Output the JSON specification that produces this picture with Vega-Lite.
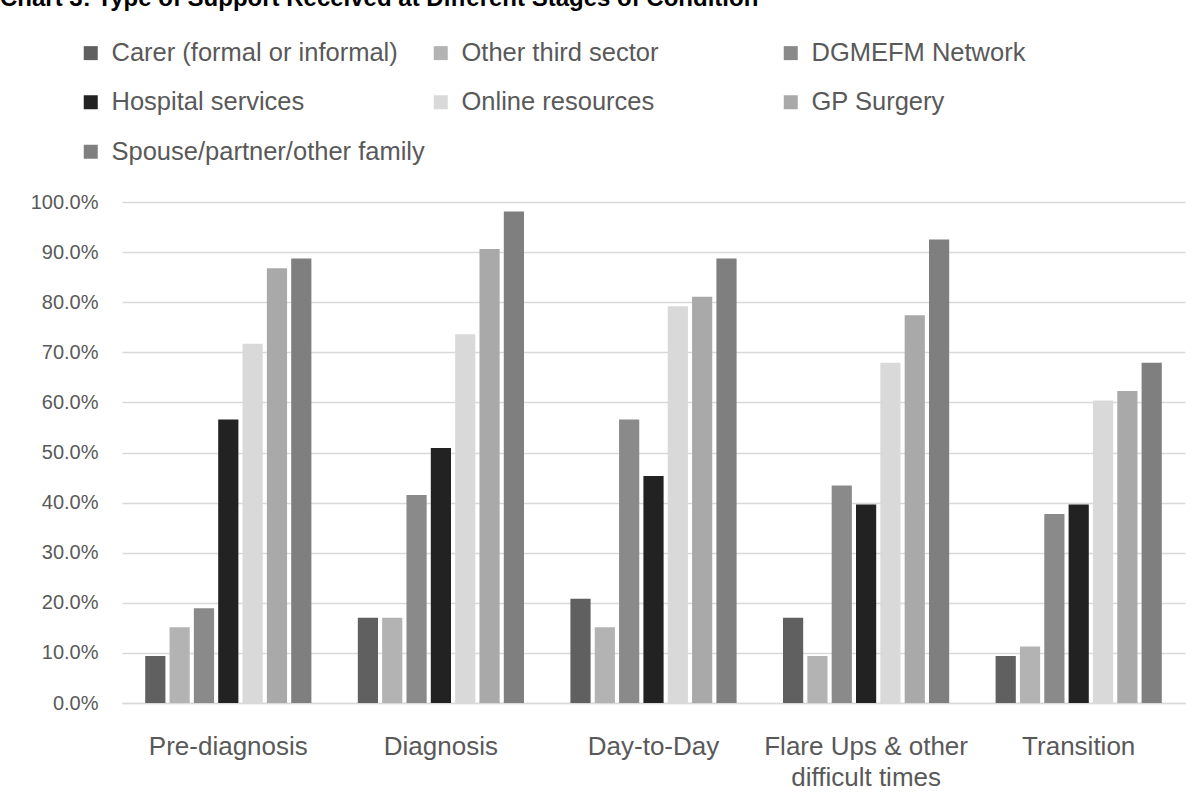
{
  "$schema": "https://vega.github.io/schema/vega-lite/v6.json",
  "autosize": {"type": "none"},
  "width": 1063,
  "height": 501,
  "padding": {"left": 122, "top": 202, "right": 17, "bottom": 99},
  "background": "white",
  "title": {
    "text": "Chart 3: Type of Support Received at Different Stages of Condition",
    "anchor": "start",
    "frame": "group",
    "orient": "top",
    "dx": -122,
    "offset": 29,
    "font": "Liberation Sans",
    "fontSize": 24,
    "fontWeight": "bold",
    "color": "#000000"
  },
  "data": {
    "values": [
      {"stage": "Pre-diagnosis", "support": "Carer (formal or informal)", "share": 0.094},
      {"stage": "Pre-diagnosis", "support": "Other third sector", "share": 0.151},
      {"stage": "Pre-diagnosis", "support": "DGMEFM Network", "share": 0.189},
      {"stage": "Pre-diagnosis", "support": "Hospital services", "share": 0.566},
      {"stage": "Pre-diagnosis", "support": "Online resources", "share": 0.717},
      {"stage": "Pre-diagnosis", "support": "GP Surgery", "share": 0.868},
      {"stage": "Pre-diagnosis", "support": "Spouse/partner/other family", "share": 0.887},
      {"stage": "Diagnosis", "support": "Carer (formal or informal)", "share": 0.170},
      {"stage": "Diagnosis", "support": "Other third sector", "share": 0.170},
      {"stage": "Diagnosis", "support": "DGMEFM Network", "share": 0.415},
      {"stage": "Diagnosis", "support": "Hospital services", "share": 0.509},
      {"stage": "Diagnosis", "support": "Online resources", "share": 0.736},
      {"stage": "Diagnosis", "support": "GP Surgery", "share": 0.906},
      {"stage": "Diagnosis", "support": "Spouse/partner/other family", "share": 0.981},
      {"stage": "Day-to-Day", "support": "Carer (formal or informal)", "share": 0.208},
      {"stage": "Day-to-Day", "support": "Other third sector", "share": 0.151},
      {"stage": "Day-to-Day", "support": "DGMEFM Network", "share": 0.566},
      {"stage": "Day-to-Day", "support": "Hospital services", "share": 0.453},
      {"stage": "Day-to-Day", "support": "Online resources", "share": 0.792},
      {"stage": "Day-to-Day", "support": "GP Surgery", "share": 0.811},
      {"stage": "Day-to-Day", "support": "Spouse/partner/other family", "share": 0.887},
      {"stage": "Flare Ups & other difficult times", "support": "Carer (formal or informal)", "share": 0.170},
      {"stage": "Flare Ups & other difficult times", "support": "Other third sector", "share": 0.094},
      {"stage": "Flare Ups & other difficult times", "support": "DGMEFM Network", "share": 0.434},
      {"stage": "Flare Ups & other difficult times", "support": "Hospital services", "share": 0.396},
      {"stage": "Flare Ups & other difficult times", "support": "Online resources", "share": 0.679},
      {"stage": "Flare Ups & other difficult times", "support": "GP Surgery", "share": 0.774},
      {"stage": "Flare Ups & other difficult times", "support": "Spouse/partner/other family", "share": 0.925},
      {"stage": "Transition", "support": "Carer (formal or informal)", "share": 0.094},
      {"stage": "Transition", "support": "Other third sector", "share": 0.113},
      {"stage": "Transition", "support": "DGMEFM Network", "share": 0.377},
      {"stage": "Transition", "support": "Hospital services", "share": 0.396},
      {"stage": "Transition", "support": "Online resources", "share": 0.604},
      {"stage": "Transition", "support": "GP Surgery", "share": 0.623},
      {"stage": "Transition", "support": "Spouse/partner/other family", "share": 0.679}
    ]
  },
  "mark": {"type": "bar"},
  "encoding": {
    "x": {
      "field": "stage",
      "type": "nominal",
      "sort": null,
      "scale": {"paddingInner": 0.2, "paddingOuter": 0.1},
      "axis": {
        "title": null,
        "labelAngle": 0,
        "labelFont": "Liberation Sans",
        "labelFontSize": 26,
        "labelColor": "#595959",
        "labelBaseline": "top",
        "labelPadding": 30,
        "labelLineHeight": 31,
        "labelLimit": 320,
        "labelExpr": "datum.label == 'Flare Ups & other difficult times' ? ['Flare Ups & other', 'difficult times'] : datum.label",
        "ticks": false,
        "domainColor": "#d9d9d9",
        "domainWidth": 1.5
      }
    },
    "xOffset": {
      "field": "support",
      "type": "nominal",
      "sort": null,
      "scale": {"paddingInner": 0.17, "paddingOuter": 0.08}
    },
    "y": {
      "field": "share",
      "type": "quantitative",
      "scale": {"domain": [0, 1], "nice": false},
      "axis": {
        "title": null,
        "format": ".1%",
        "values": [0, 0.1, 0.2, 0.3, 0.4, 0.5, 0.6, 0.7, 0.8, 0.9, 1.0],
        "labelFont": "Liberation Sans",
        "labelFontSize": 20,
        "labelColor": "#595959",
        "labelPadding": 24,
        "ticks": false,
        "domain": false,
        "gridColor": "#d9d9d9",
        "gridWidth": 1.5
      }
    },
    "color": {
      "field": "support",
      "type": "nominal",
      "sort": null,
      "scale": {
        "domain": ["Carer (formal or informal)", "Other third sector", "DGMEFM Network", "Hospital services", "Online resources", "GP Surgery", "Spouse/partner/other family"],
        "range": ["#606060", "#b3b3b3", "#8a8a8a", "#222222", "#d9d9d9", "#a9a9a9", "#7f7f7f"]
      },
      "legend": {
        "title": null,
        "orient": "none",
        "legendX": -44,
        "legendY": -162,
        "direction": "horizontal",
        "columns": 3,
        "gridAlign": "all",
        "columnPadding": 3,
        "rowPadding": 22.5,
        "symbolType": "square",
        "symbolSize": 196,
        "symbolStrokeWidth": 0,
        "labelFont": "Liberation Sans",
        "labelFontSize": 25.5,
        "labelColor": "#595959",
        "labelOffset": 8,
        "labelLimit": 400
      }
    }
  },
  "config": {"view": {"stroke": null}}
}
